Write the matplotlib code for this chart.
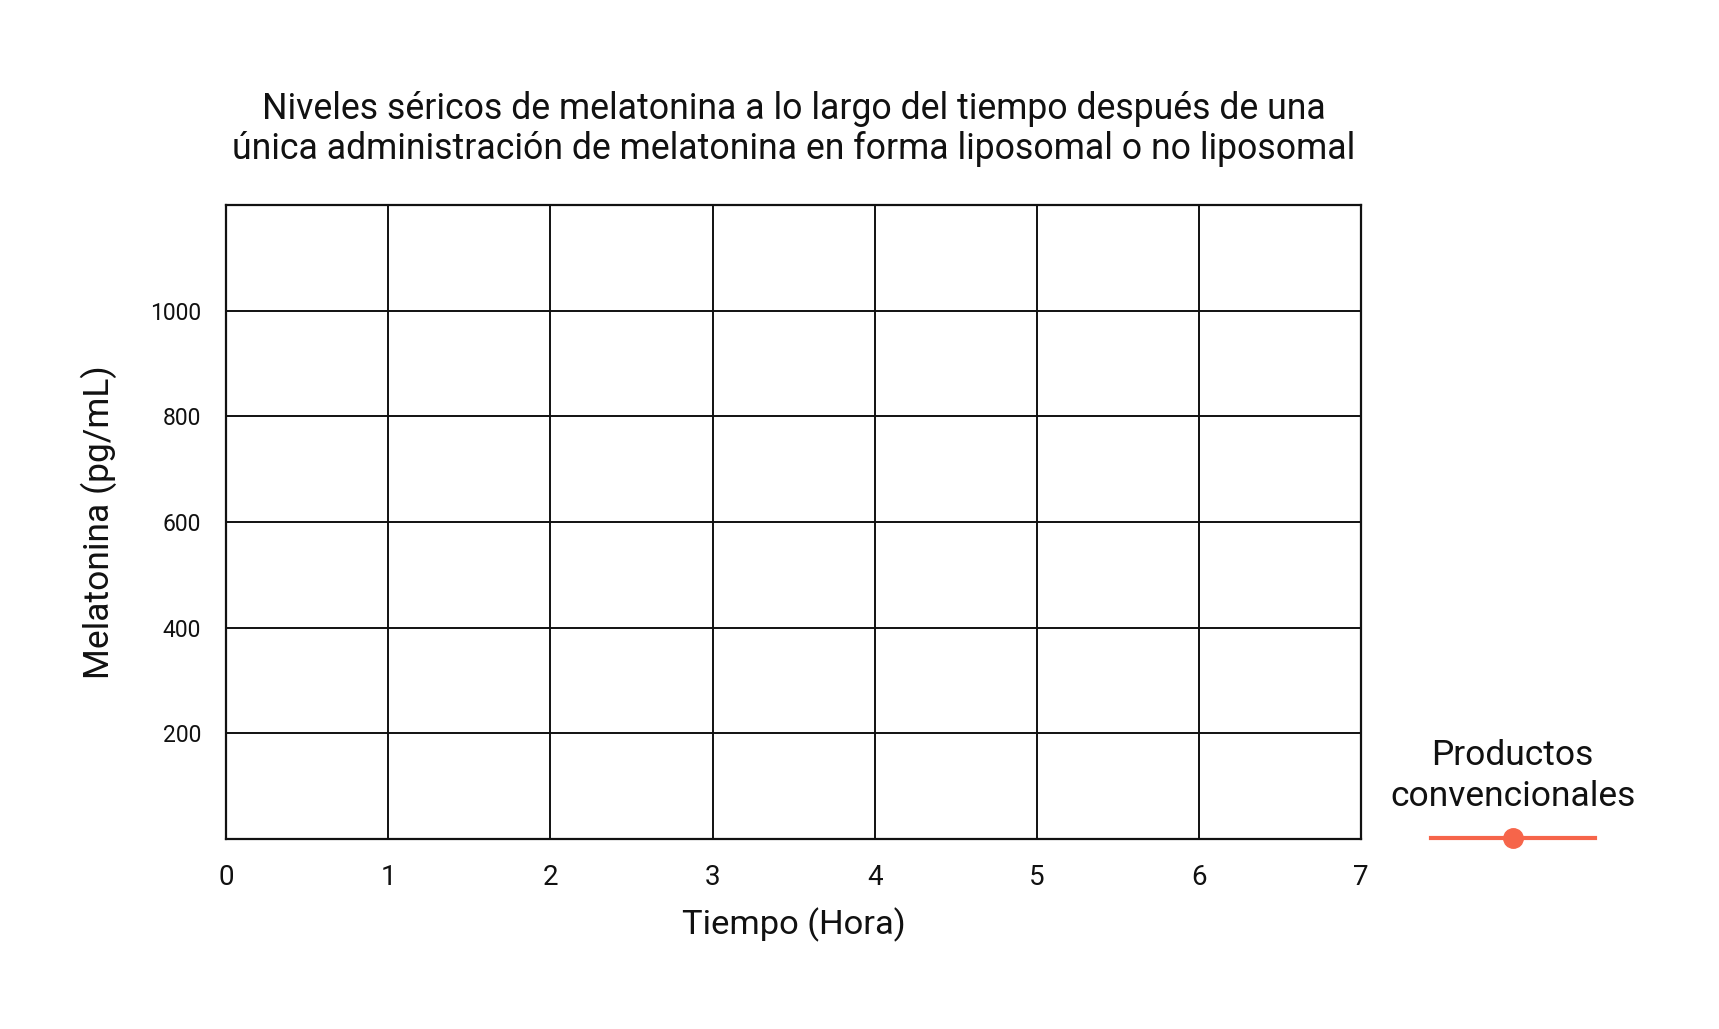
import matplotlib
matplotlib.use("Agg")
import matplotlib.pyplot as plt

# ---- data ----
series_name = "Productos\nconvencionales"
time_hours = []            # no data points visible in the reference
melatonin_conventional = []
x_ticks = [0, 1, 2, 3, 4, 5, 6, 7]
y_ticks = [200, 400, 600, 800, 1000]
x_limits = [0, 7]
y_limits = [0, 1200]
title_text = ("Niveles séricos de melatonina a lo largo del tiempo después de una\n"
              "única administración de melatonina en forma liposomal o no liposomal")
x_label = "Tiempo (Hora)"
y_label = "Melatonina (pg/mL)"

plt.rcParams['font.family'] = ['Roboto', 'DejaVu Sans']

fig = plt.figure(figsize=(17.19, 10.29), dpi=100)
ax = fig.add_axes([0.1315, 0.1846, 0.6603, 0.6162])

line_color = '#F6654A'
ax.plot(time_hours, melatonin_conventional, color=line_color, linewidth=3,
        marker='o', markersize=14, label='')

ax.set_xlim(*x_limits)
ax.set_ylim(*y_limits)
ax.set_xticks(x_ticks)
ax.set_yticks(y_ticks)
ax.tick_params(axis='both', length=0, labelcolor='#111111')
ax.tick_params(axis='x', labelsize=20, pad=18)
ax.tick_params(axis='y', labelsize=16.5, pad=18)
ax.grid(True, color='#111111', linewidth=1.4)
for s in ax.spines.values():
    s.set_color('#111111')
    s.set_linewidth(1.6)

ax.set_xlabel(x_label, fontsize=24.8, labelpad=12, color='#111111')
ax.set_ylabel(y_label, fontsize=25.5, labelpad=24, color='#111111')
ax.set_title(title_text, fontsize=25.7, pad=33, linespacing=1.15, color='#111111')

leg = fig.legend(handles=ax.get_lines(), labels=[''], title=series_name,
                 loc='center', bbox_to_anchor=(0.880, 0.226), frameon=False,
                 fontsize=20, title_fontsize=25.5, handlelength=5.9,
                 handletextpad=0, borderpad=0, numpoints=1)
leg.get_title().set_multialignment('center')
leg.get_title().set_linespacing(1.32)
leg.get_title().set_color('#111111')

fig.savefig('out.png', dpi=100, facecolor='white')
